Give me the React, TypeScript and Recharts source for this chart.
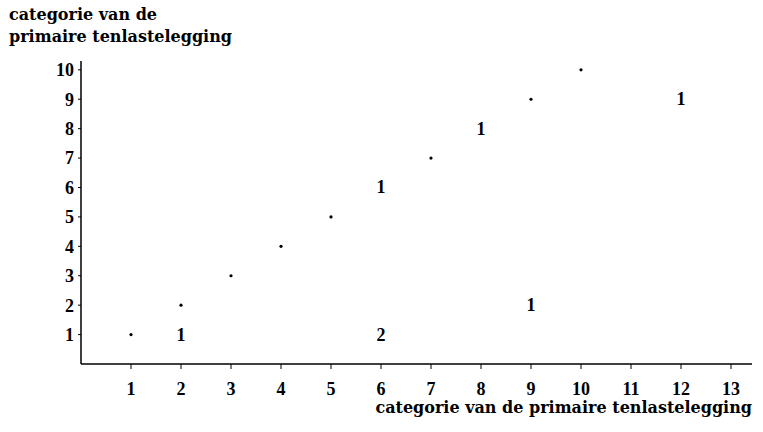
import React from 'react';
import { ScatterChart, Scatter, XAxis, YAxis } from 'recharts';

const xTicks = [1, 2, 3, 4, 5, 6, 7, 8, 9, 10, 11, 12, 13];
const yTicks = [1, 2, 3, 4, 5, 6, 7, 8, 9, 10];

const dotX = [1, 2, 3, 4, 5, 7, 9, 10];
const dotY = [1, 2, 3, 4, 5, 7, 9, 10];

const countX = [2, 6, 6, 8, 9, 12];
const countY = [1, 1, 6, 8, 2, 9];
const countLabels = ['1', '2', '1', '1', '1', '1'];

const dots = dotX.map((x, i) => ({ x, y: dotY[i] }));
const counts = countX.map((x, i) => ({ x, y: countY[i], label: countLabels[i] }));

const FONT = '"Liberation Serif", "DejaVu Serif", serif';
const TITLE_FONT = '"DejaVu Serif", serif';

const DotShape = (props: any) => {
  const { cx, cy } = props;
  return <circle cx={cx} cy={cy} r={1.6} fill="#000" />;
};

const CountShape = (props: any) => {
  const { cx, cy, payload } = props;
  return (
    <text x={cx} y={cy} dy={6} textAnchor="middle" fontFamily={FONT} fontWeight="bold" fontSize={18} fill="#000">
      {payload.label}
    </text>
  );
};

export default function App() {
  return (
    <div style={{ position: 'absolute', left: 0, top: 0, width: 763, height: 432, background: '#fff' }}>
      <div style={{ position: 'absolute', left: 9, top: 4, fontFamily: TITLE_FONT, fontWeight: 'bold', fontSize: 16, lineHeight: '22px', color: '#000', whiteSpace: 'nowrap' }}>
        categorie van de<br />primaire tenlastelegging
      </div>
      <div style={{ position: 'absolute', right: 11, top: 397, fontFamily: TITLE_FONT, fontWeight: 'bold', fontSize: 16, lineHeight: '22px', color: '#000', whiteSpace: 'nowrap' }}>
        categorie van de primaire tenlastelegging
      </div>
      <ScatterChart width={763} height={432} margin={{ top: 61, right: 11, bottom: 0, left: 0 }}>
        <XAxis
          type="number"
          dataKey="x"
          domain={[0, 13.42]}
          ticks={xTicks}
          interval={0}
          allowDataOverflow
          height={68}
          axisLine={{ stroke: '#000', strokeWidth: 1.5 }}
          tickLine={{ stroke: '#000' }}
          tickSize={5}
          tick={{ fill: '#000', fontFamily: FONT, fontWeight: 'bold', fontSize: 18 }}
          tickMargin={13}
        />
        <YAxis
          type="number"
          dataKey="y"
          domain={[0, 10.3]}
          ticks={yTicks}
          interval={0}
          allowDataOverflow
          width={81}
          axisLine={{ stroke: '#000', strokeWidth: 1.5 }}
          tickLine={{ stroke: '#000' }}
          tickSize={3}
          tick={{ fill: '#000', fontFamily: FONT, fontWeight: 'bold', fontSize: 18 }}
          tickMargin={4}
        />
        <Scatter data={dots} shape={<DotShape />} isAnimationActive={false} />
        <Scatter data={counts} shape={<CountShape />} isAnimationActive={false} />
      </ScatterChart>
    </div>
  );
}
